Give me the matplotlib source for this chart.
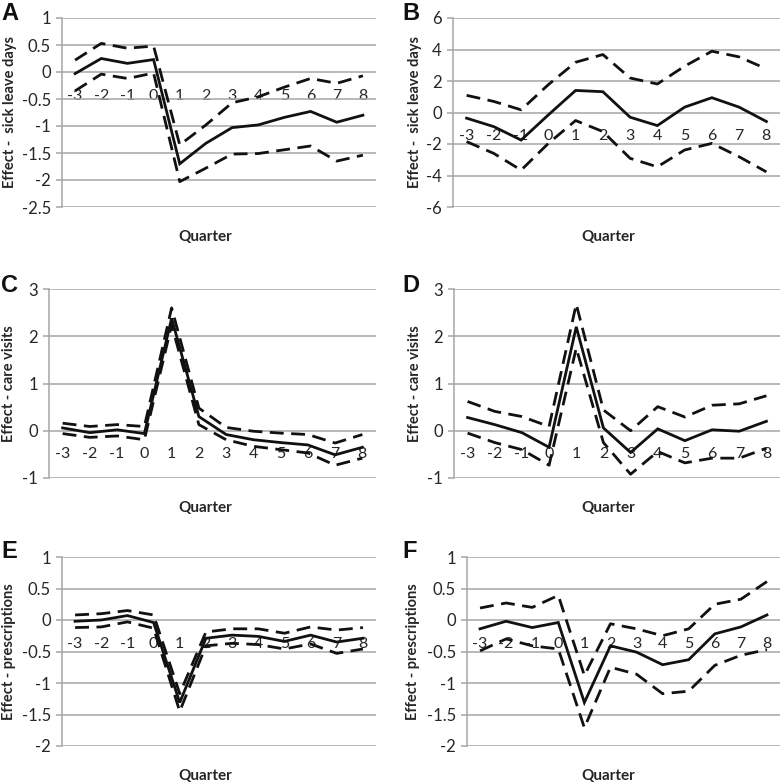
import matplotlib
matplotlib.use("Agg")
import matplotlib.pyplot as plt
import numpy as np

quarters = [-3, -2, -1, 0, 1, 2, 3, 4, 5, 6, 7, 8]
quarter_labels = [str(q) for q in quarters]

# Panel A: sick leave days
a_est = [-0.03, 0.25, 0.16, 0.23, -1.70, -1.32, -1.03, -0.98, -0.84, -0.73, -0.93, -0.80]
a_hi = [0.22, 0.53, 0.44, 0.48, -1.35, -0.98, -0.57, -0.46, -0.28, -0.12, -0.21, -0.07]
a_lo = [-0.35, -0.04, -0.12, -0.02, -2.03, -1.78, -1.52, -1.51, -1.44, -1.37, -1.65, -1.54]

# Panel B: sick leave days
b_est = [-0.36, -0.90, -1.75, -0.15, 1.40, 1.32, -0.30, -0.83, 0.34, 0.94, 0.34, -0.57]
b_hi = [1.09, 0.70, 0.17, 1.77, 3.19, 3.68, 2.19, 1.81, 2.94, 3.89, 3.53, 2.77]
b_lo = [-1.85, -2.60, -3.66, -1.96, -0.51, -1.21, -2.91, -3.45, -2.38, -1.96, -2.81, -3.77]

# Panel C: care visits
c_est = [0.06, -0.04, 0.02, -0.06, 2.38, 0.30, -0.08, -0.19, -0.25, -0.30, -0.51, -0.35]
c_hi = [0.16, 0.09, 0.13, 0.09, 2.60, 0.48, 0.07, -0.01, -0.05, -0.08, -0.26, -0.08]
c_lo = [-0.06, -0.14, -0.11, -0.19, 2.24, 0.13, -0.19, -0.33, -0.40, -0.47, -0.73, -0.58]

# Panel D: care visits
d_est = [0.28, 0.13, -0.04, -0.35, 2.20, 0.06, -0.46, 0.04, -0.21, 0.02, -0.01, 0.20]
d_hi = [0.62, 0.41, 0.30, 0.09, 2.68, 0.44, 0.00, 0.51, 0.29, 0.54, 0.57, 0.74]
d_lo = [-0.05, -0.25, -0.40, -0.73, 1.75, -0.25, -0.92, -0.44, -0.68, -0.58, -0.58, -0.37]

# Panel E: prescriptions
e_est = [-0.02, 0.00, 0.07, -0.04, -1.31, -0.29, -0.24, -0.26, -0.34, -0.24, -0.35, -0.29]
e_hi = [0.08, 0.10, 0.15, 0.08, -1.17, -0.19, -0.14, -0.14, -0.21, -0.11, -0.16, -0.12]
e_lo = [-0.12, -0.11, -0.03, -0.13, -1.45, -0.41, -0.37, -0.39, -0.46, -0.38, -0.53, -0.46]

# Panel F: prescriptions
f_est = [-0.14, -0.02, -0.12, -0.04, -1.31, -0.41, -0.51, -0.71, -0.63, -0.22, -0.11, 0.08]
f_hi = [0.19, 0.27, 0.20, 0.39, -0.88, -0.06, -0.14, -0.25, -0.14, 0.25, 0.33, 0.61]
f_lo = [-0.49, -0.30, -0.41, -0.46, -1.71, -0.75, -0.86, -1.17, -1.13, -0.72, -0.56, -0.47]

ylabels = {
    "sick": "Effect -  sick leave days",
    "care": "Effect - care visits",
    "presc": "Effect - prescriptions",
}

W, H = 780, 782
fig = plt.figure(figsize=(W / 100, H / 100), dpi=100)

FONT = ["Lato", "DejaVu Sans"]
plt.rcParams["font.family"] = FONT

GRID = "#a6a6a6"
TXT = "#262626"

panels = [
    ("A", a_est, a_hi, a_lo, (-2.5, 1), np.arange(-2.5, 1.01, 0.5), "sick",
     (62, 376, 18, 207), 10, (1, 2), (205, 237)),
    ("B", b_est, b_hi, b_lo, (-6, 6), np.arange(-6, 6.1, 2), "sick",
     (453, 780, 18, 207), 415, (402, 2), (608, 237)),
    ("C", c_est, c_hi, c_lo, (-1, 3), np.arange(-1, 3.1, 1), "care",
     (49, 376, 289, 478), 9, (1, 274), (205, 508)),
    ("D", d_est, d_hi, d_lo, (-1, 3), np.arange(-1, 3.1, 1), "care",
     (454, 780, 289, 478), 415, (402, 274), (608, 508)),
    ("E", e_est, e_hi, e_lo, (-2, 1), np.arange(-2, 1.01, 0.5), "presc",
     (62, 376, 557, 746), 9, (1, 540), (205, 776)),
    ("F", f_est, f_hi, f_lo, (-2, 1), np.arange(-2, 1.01, 0.5), "presc",
     (467, 780, 557, 746), 413, (402, 540), (608, 776)),
]

def fmt(v):
    if abs(v - round(v)) < 1e-9:
        return str(int(round(v)))
    return ("%.1f" % v)

DASH = (0, (5.0, 2.7))

for letter, est, hi, lo, ylim, yt, ykey, box, ylx, lpos, qpos in panels:
    l, r, t, b = box
    ax = fig.add_axes([l / W, 1 - b / H, (r - l) / W, (b - t) / H])
    ax.set_xlim(-3.5, 8.5)
    ax.set_ylim(*ylim)
    ax.set_yticks(yt)
    ax.set_yticklabels([fmt(v) for v in yt])
    ax.yaxis.grid(True, color=GRID, lw=1.1)
    ax.set_axisbelow(True)
    for s in ["top", "right"]:
        ax.spines[s].set_visible(False)
    ax.spines["left"].set_color(GRID)
    ax.spines["left"].set_linewidth(1.1)
    ax.spines["bottom"].set_position(("data", 0))
    ax.spines["bottom"].set_visible(False)
    ax.set_xticks(quarters)
    ax.set_xticklabels(quarter_labels)
    ax.tick_params(axis="x", length=0, pad=12, labelsize=11.5, labelcolor=TXT)
    ax.tick_params(axis="y", length=4, width=1.1, color=GRID, pad=4, labelsize=12, labelcolor=TXT)
    ax.patch.set_alpha(0)

    ax.plot(quarters, est, color="#111111", lw=2.0, solid_joinstyle="miter", zorder=3)
    ax.plot(quarters, hi, color="#111111", lw=2.0, linestyle=DASH, zorder=3)
    ax.plot(quarters, lo, color="#111111", lw=2.0, linestyle=DASH, zorder=3)

    yc = (t + b) / 2
    fig.text(ylx / W, 1 - yc / H, ylabels[ykey], rotation=90, ha="center", va="center",
             fontsize=10.5, fontweight="bold", color=TXT)
    fig.text(qpos[0] / W, 1 - qpos[1] / H, "Quarter", ha="center", va="center",
             fontsize=11, fontweight="bold", color=TXT)
    fig.text(lpos[0] / W, 1 - lpos[1] / H, letter, ha="left", va="top",
             fontsize=17, fontweight="bold", color="#111111",
             family=["Liberation Sans", "DejaVu Sans"])

fig.savefig("out.png", dpi=100)
